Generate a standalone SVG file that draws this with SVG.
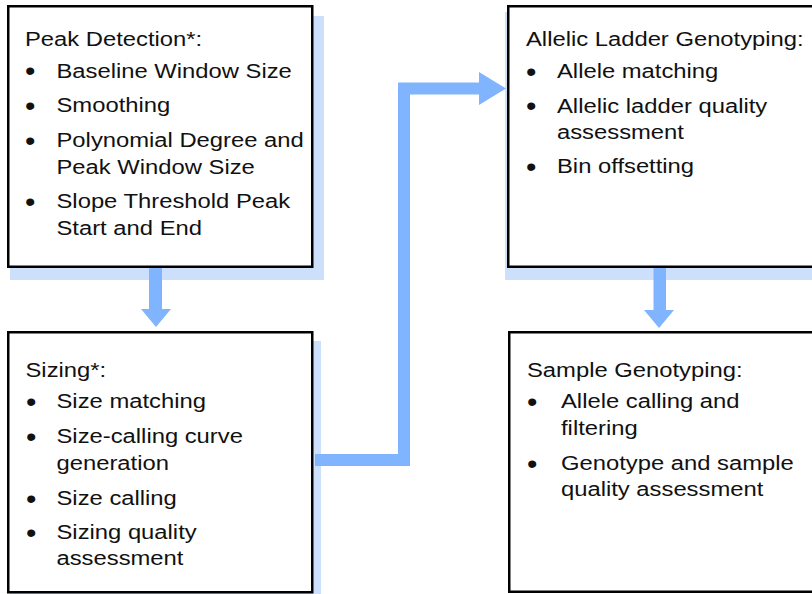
<svg xmlns="http://www.w3.org/2000/svg" width="812" height="594" viewBox="0 0 812 594">
<style>
.shadow{fill:#cce0fc;stroke:none}
.box{fill:#fff;stroke:#000;stroke-width:2.5}
.flow{fill:none;stroke:#80b4ff;stroke-width:12;stroke-linejoin:miter;stroke-linecap:butt}
.head{fill:#80b4ff;stroke:none}
.t{font-family:"Liberation Sans",Arial,Helvetica,sans-serif;font-size:20px;fill:#111}
.b{font-family:"Liberation Sans",Arial,Helvetica,sans-serif;font-size:27px;fill:#111}
</style>
<rect width="812" height="594" fill="#fff"/>
<g id="shadows">
<rect class="shadow" x="10" y="16" width="314" height="264"/>
<rect class="shadow" x="10" y="341" width="311" height="260"/>
<rect class="shadow" x="505" y="12" width="320" height="268"/>
</g>
<g id="connectors">
<rect class="head" x="149" y="266" width="13" height="44"/>
<polygon class="head" points="141,309 171,309 156,327"/>
<rect class="head" x="653.5" y="266" width="12.5" height="45"/>
<polygon class="head" points="644,310 674,310 659,328"/>
<path class="flow" d="M315,460 H404 V88.5 H480"/>
<polygon class="head" points="479,72 479,105 506,88.5"/>
</g>
<g id="peak-detection">
<rect class="box" x="8.25" y="6.25" width="304" height="260.5"/>
<text class="t" transform="translate(25,46) scale(1.19,1)">Peak Detection*:</text>
<text class="b" transform="translate(25,80) scale(1.1,1)">•</text>
<text class="t" transform="translate(56.5,77.5) scale(1.19,1)">Baseline Window Size</text>
<text class="b" transform="translate(25,114.5) scale(1.1,1)">•</text>
<text class="t" transform="translate(56.5,112) scale(1.19,1)">Smoothing</text>
<text class="b" transform="translate(25,149.5) scale(1.1,1)">•</text>
<text class="t" transform="translate(56.5,147) scale(1.19,1)">Polynomial Degree and</text>
<text class="t" transform="translate(56.5,174) scale(1.19,1)">Peak Window Size</text>
<text class="b" transform="translate(25,210.5) scale(1.1,1)">•</text>
<text class="t" transform="translate(56.5,208) scale(1.19,1)">Slope Threshold Peak</text>
<text class="t" transform="translate(56.5,235) scale(1.19,1)">Start and End</text>
</g>
<g id="sizing">
<rect class="box" x="8.25" y="332.25" width="304" height="260"/>
<text class="t" transform="translate(25.5,377) scale(1.19,1)">Sizing*:</text>
<text class="b" transform="translate(26,410.5) scale(1.1,1)">•</text>
<text class="t" transform="translate(56.5,408) scale(1.19,1)">Size matching</text>
<text class="b" transform="translate(26,445.5) scale(1.1,1)">•</text>
<text class="t" transform="translate(56.5,443) scale(1.19,1)">Size-calling curve</text>
<text class="t" transform="translate(56.5,469.5) scale(1.19,1)">generation</text>
<text class="b" transform="translate(26,507.5) scale(1.1,1)">•</text>
<text class="t" transform="translate(56.5,505) scale(1.19,1)">Size calling</text>
<text class="b" transform="translate(26,541.5) scale(1.1,1)">•</text>
<text class="t" transform="translate(56.5,539) scale(1.19,1)">Sizing quality</text>
<text class="t" transform="translate(56.5,565) scale(1.19,1)">assessment</text>
</g>
<g id="allelic-ladder-genotyping">
<rect class="box" x="508.25" y="6.25" width="320" height="260.5"/>
<text class="t" transform="translate(526,46) scale(1.19,1)">Allelic Ladder Genotyping:</text>
<text class="b" transform="translate(526,80.5) scale(1.1,1)">•</text>
<text class="t" transform="translate(557,78) scale(1.19,1)">Allele matching</text>
<text class="b" transform="translate(526,115) scale(1.1,1)">•</text>
<text class="t" transform="translate(557,112.5) scale(1.19,1)">Allelic ladder quality</text>
<text class="t" transform="translate(557,139) scale(1.19,1)">assessment</text>
<text class="b" transform="translate(526,175.5) scale(1.1,1)">•</text>
<text class="t" transform="translate(557,173) scale(1.19,1)">Bin offsetting</text>
</g>
<g id="sample-genotyping">
<rect class="box" x="509.25" y="332.25" width="320" height="259.5"/>
<text class="t" transform="translate(527,377) scale(1.19,1)">Sample Genotyping:</text>
<text class="b" transform="translate(527,410.5) scale(1.1,1)">•</text>
<text class="t" transform="translate(561,408) scale(1.19,1)">Allele calling and</text>
<text class="t" transform="translate(561,435) scale(1.19,1)">filtering</text>
<text class="b" transform="translate(527,472.5) scale(1.1,1)">•</text>
<text class="t" transform="translate(561,470) scale(1.19,1)">Genotype and sample</text>
<text class="t" transform="translate(561,496) scale(1.19,1)">quality assessment</text>
</g>
</svg>
